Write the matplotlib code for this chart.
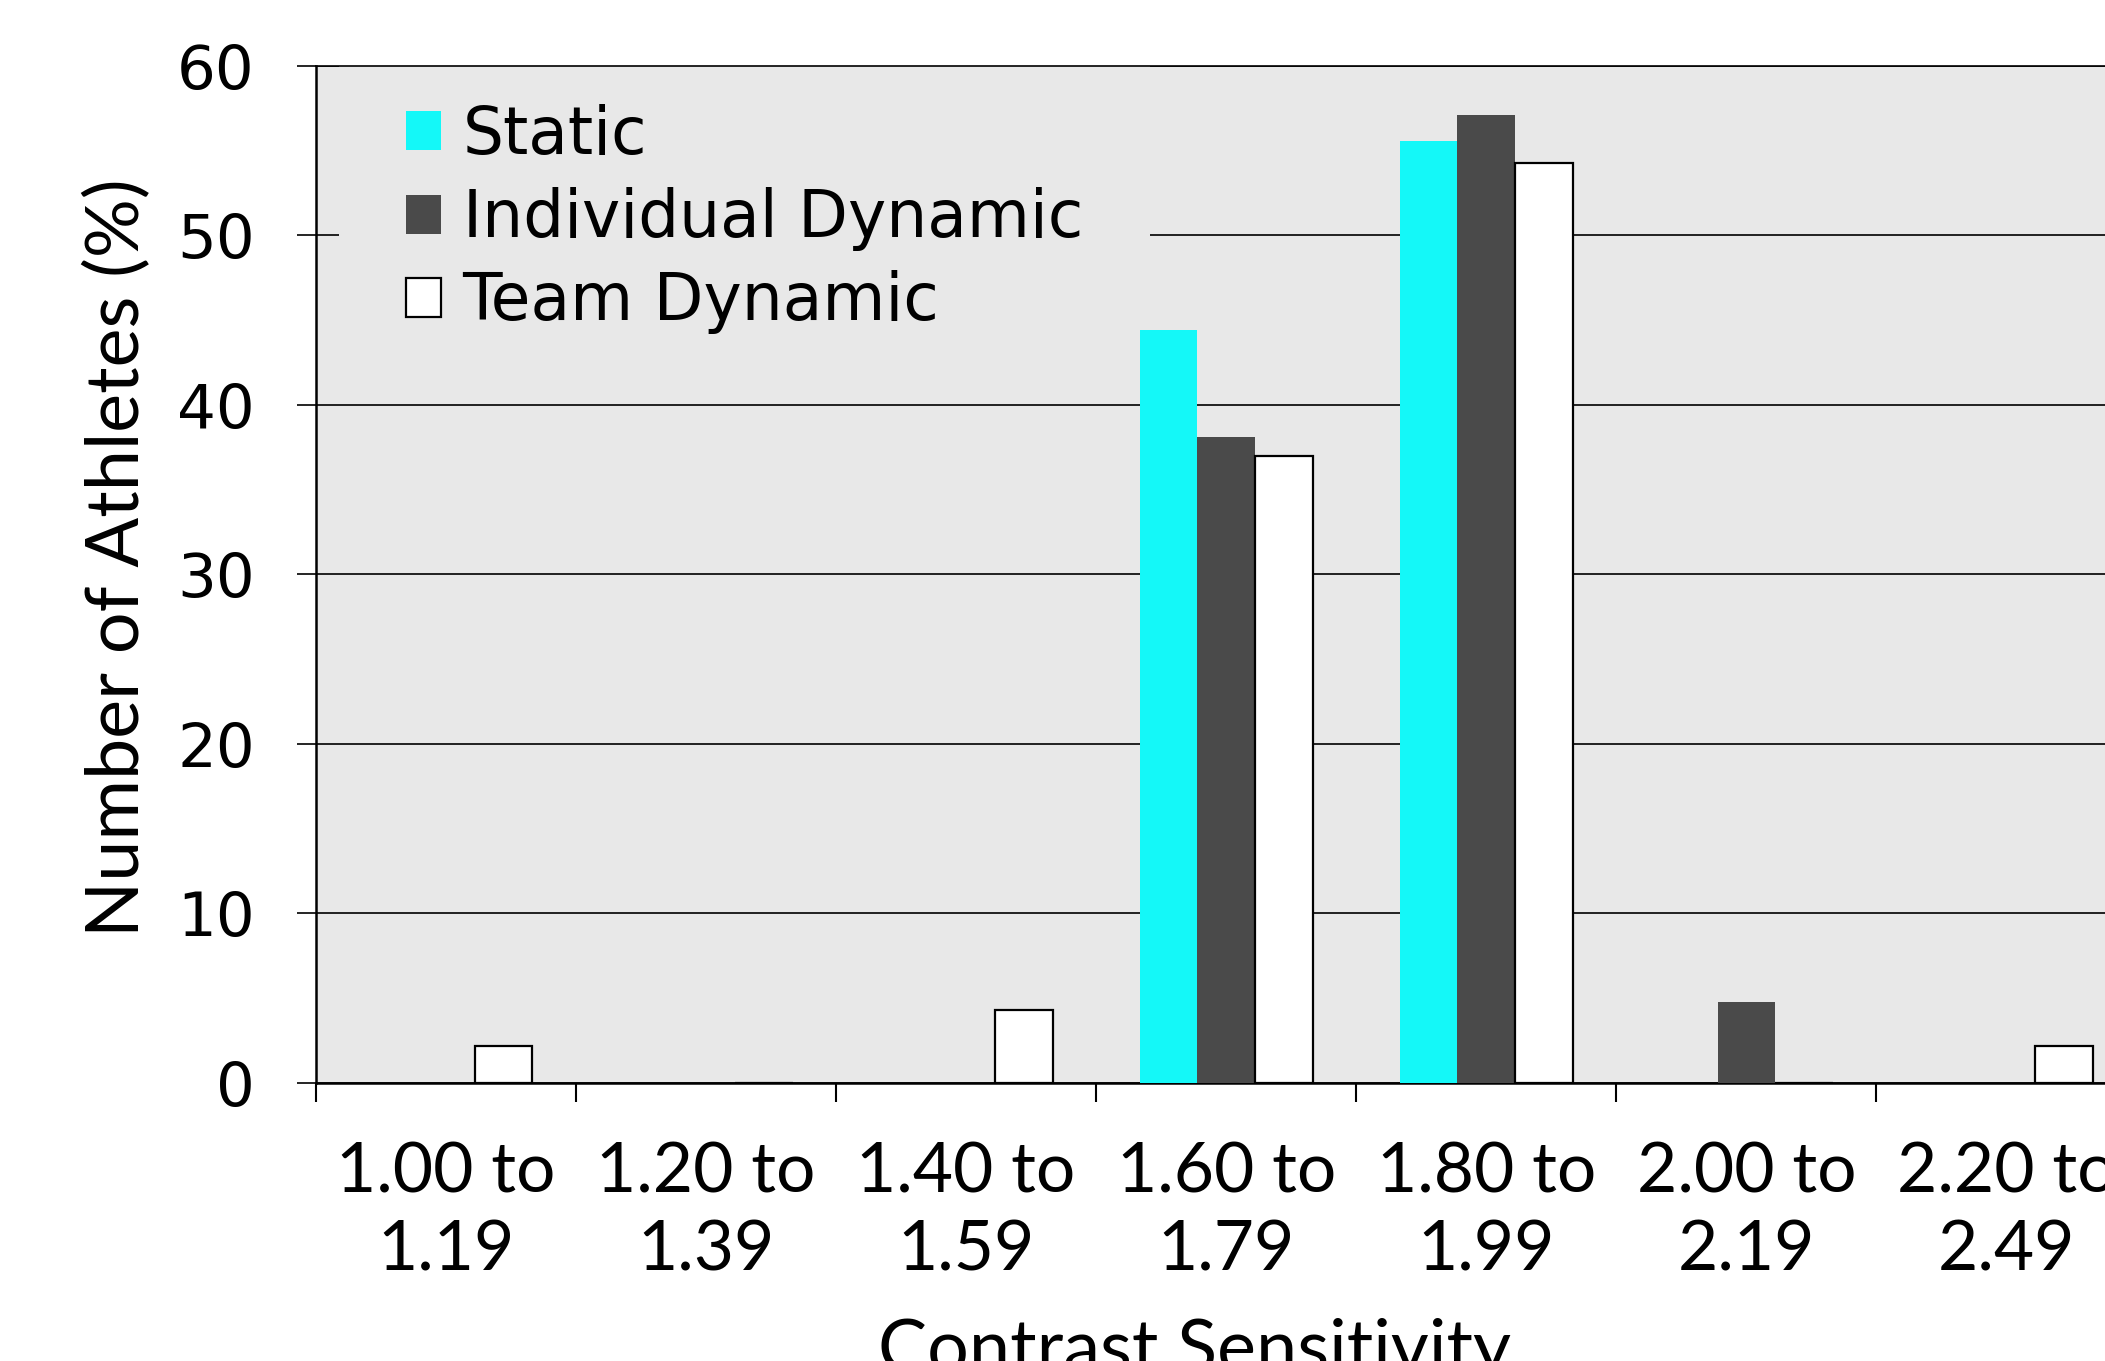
import numpy as np
import matplotlib
matplotlib.use("Agg")
from matplotlib import pyplot as plt

plt.rcParams['font.family'] = ['Lato', 'DejaVu Sans']

# contrast sensitivity bins
bins = ["1.00 to\n1.19", "1.20 to\n1.39", "1.40 to\n1.59", "1.60 to\n1.79",
        "1.80 to\n1.99", "2.00 to\n2.19", "2.20 to\n2.49"]

# percent of athletes in each bin
static = [0, 0, 0, 44.4, 55.6, 0, 0]
individual = [0, 0, 0, 38.1, 57.1, 4.8, 0]
team = [2.2, 0, 4.3, 37.0, 54.3, 0, 2.2]

yticks = [0, 10, 20, 30, 40, 50, 60]

bg = '#e8e8e8'

fig = plt.figure(figsize=(21.05, 13.61), dpi=100)
ax = fig.add_axes([0.150, 0.2043, 0.865, 0.7472])

x = np.arange(len(bins))
w = 0.222

ax.bar(x - w, static, w, color='#14f8f8', label='Static', zorder=3)
ax.bar(x, individual, w, color='#4a4a4a', label='Individual Dynamic', zorder=3)
ax.bar(x + w, team, w, color='white', edgecolor='black', linewidth=1.6,
       label='Team Dynamic', zorder=3)

ax.set_facecolor(bg)
ax.set_xlim(-0.5, len(bins) - 0.5)
ax.set_ylim(0, 60)
ax.set_yticks(yticks)
ax.set_yticklabels([str(v) for v in yticks], family='DejaVu Sans', fontsize=44)

# ticks sit between the bins, labels under the bin centres
ax.set_xticks(np.arange(len(bins) + 1) - 0.5)
ax.set_xticklabels([])
ax.set_xticks(x, minor=True)
ax.set_xticklabels(bins, minor=True, fontsize=50, linespacing=1.3)
ax.tick_params(axis='x', which='minor', length=0, pad=42)
ax.tick_params(axis='x', which='major', length=14, width=1.5, direction='out')
ax.tick_params(axis='y', length=14, width=1.2, direction='out', pad=30)

ax.yaxis.grid(True, color='black', linewidth=1.2)
ax.set_axisbelow(True)
ax.spines['right'].set_visible(False)
ax.spines['top'].set_linewidth(1.2)
ax.spines['left'].set_linewidth(1.8)
ax.spines['bottom'].set_linewidth(1.8)

leg = ax.legend(loc='upper left', bbox_to_anchor=(0.0125, 1.029),
                prop={'family': 'DejaVu Sans', 'size': 46.5},
                frameon=True, facecolor=bg, edgecolor='none',
                framealpha=1, handlelength=0.55, handleheight=0.55,
                handletextpad=0.33, labelspacing=0.3, borderpad=1.04,
                borderaxespad=0)
leg.set_zorder(2.2)
leg.legendPatch.set_clip_box(ax.bbox)
leg.legendPatch.set_clip_on(True)

fig.text(118 / 2105, 1 - 558 / 1361, "Number of Athletes (%)", rotation=90,
         ha='center', va='center', fontsize=53)
fig.text(1195 / 2105, 1 - 1318 / 1361, "Contrast Sensitivity",
         ha='center', va='top', fontsize=53)

fig.savefig("out.png", dpi=100)
